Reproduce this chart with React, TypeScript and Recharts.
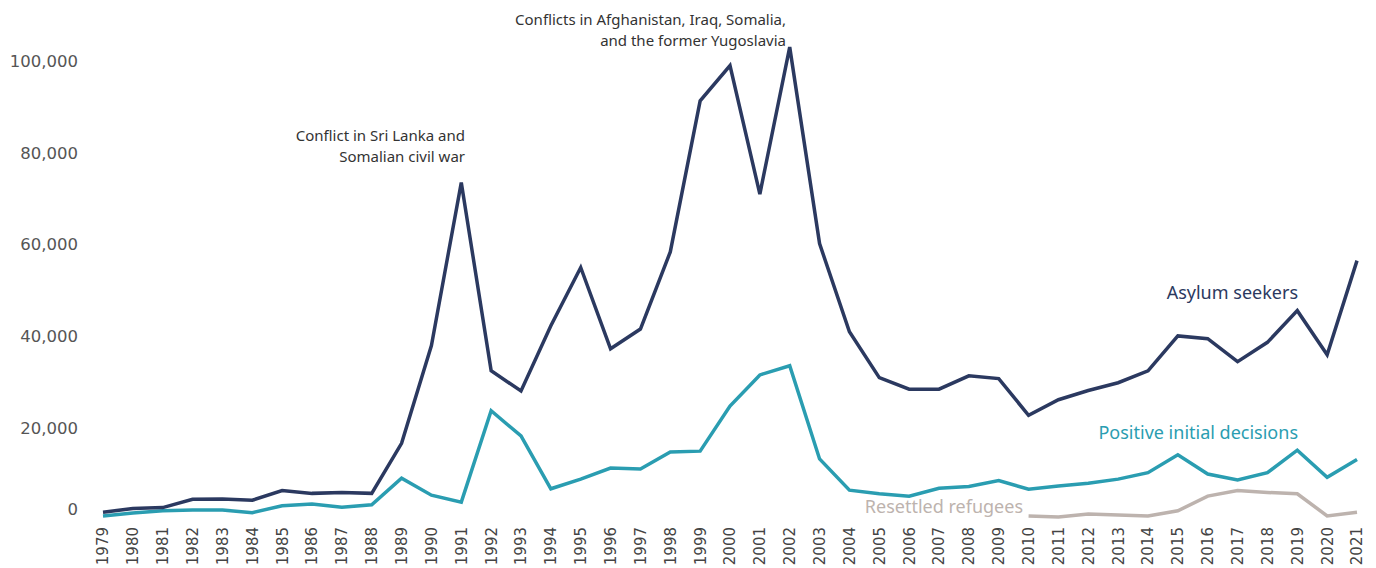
import React from 'react';
import { LineChart, Line, XAxis, YAxis } from 'recharts';

const years = [
  '1979', '1980', '1981', '1982', '1983', '1984', '1985', '1986', '1987', '1988',
  '1989', '1990', '1991', '1992', '1993', '1994', '1995', '1996', '1997', '1998',
  '1999', '2000', '2001', '2002', '2003', '2004', '2005', '2006', '2007', '2008',
  '2009', '2010', '2011', '2012', '2013', '2014', '2015', '2016', '2017', '2018',
  '2019', '2020', '2021',
];

const asylumSeekers = [
  1700, 2500, 2700, 4500, 4600, 4300, 6400, 5800, 6000, 5800,
  16700, 38000, 73500, 32500, 28100, 42300, 55000, 37300, 41600, 58400,
  91300, 99000, 71000, 103000, 60200, 41000, 31000, 28500, 28500, 31400,
  30800, 22800, 26200, 28200, 29900, 32500, 40100, 39500, 34500, 38700,
  45600, 36000, 56500,
];

const positiveDecisions = [
  870, 1500, 2000, 2200, 2200, 1600, 3100, 3500, 2800, 3300,
  9100, 5400, 3900, 23800, 18300, 6800, 8900, 11300, 11100, 14800,
  15000, 24800, 31600, 33600, 13300, 6500, 5700, 5200, 6900, 7300,
  8600, 6700, 7400, 8000, 8900, 10300, 14200, 10000, 8700, 10300,
  15200, 9300, 13200,
];

// no resettlement figures before 2010
const resettledRefugees = [
  null, null, null, null, null, null, null, null, null, null,
  null, null, null, null, null, null, null, null, null, null,
  null, null, null, null, null, null, null, null, null, null,
  null, 870, 650, 1300, 1100, 870, 2000, 5200, 6400, 6000,
  5700, 900, 1700,
];

const yTicks = [0, 20000, 40000, 60000, 80000, 100000];

const NAVY = '#2b3960';
const TEAL = '#2a9db1';
const TAUPE = '#bdb3ae';

const data = years.map((year, i) => ({
  year,
  asylum: asylumSeekers[i],
  positive: positiveDecisions[i],
  resettled: resettledRefugees[i],
}));

const YTick = (props: any) => {
  const { x, y, payload } = props;
  // the zero label sits a little above the baseline
  const dy = payload.value === 0 ? -11 : 0;
  return (
    <text x={x} y={y + dy} dy="0.35em" textAnchor="end" fill="#555" fontSize={16.5} fontFamily="DejaVu Sans, Verdana, sans-serif">
      {payload.value.toLocaleString('en-US')}
    </text>
  );
};

const XTick = (props: any) => {
  const { x, y, payload } = props;
  return (
    <text
      x={x}
      y={y}
      transform={`rotate(-90, ${x}, ${y})`}
      dy="0.36em"
      textAnchor="end"
      fill="#444"
      fontSize={15}
      fontFamily="DejaVu Sans, Verdana, sans-serif"
    >
      {payload.value}
    </text>
  );
};

const note: React.CSSProperties = {
  position: 'absolute',
  textAlign: 'right',
  fontFamily: '"Noto Sans", sans-serif',
  whiteSpace: 'nowrap',
};

export default function App() {
  return (
    <div style={{ position: 'absolute', left: 0, top: 0, width: 1376, height: 568, background: '#fff' }}>
      <LineChart width={1376} height={568} data={data} margin={{ top: 15, right: 19, bottom: 0, left: 0 }}>
        <XAxis
          dataKey="year"
          interval={0}
          axisLine={false}
          tickLine={false}
          height={48}
          tickSize={0}
          tickMargin={7}
          tick={<XTick />}
        />
        <YAxis
          domain={[0, 110000]}
          ticks={yTicks}
          width={103}
          axisLine={false}
          tickLine={false}
          tickSize={0}
          tickMargin={25}
          tick={<YTick />}
        />
        <Line dataKey="resettled" stroke={TAUPE} strokeWidth={3.5} dot={false} isAnimationActive={false} />
        <Line dataKey="positive" stroke={TEAL} strokeWidth={3.5} dot={false} isAnimationActive={false} />
        <Line dataKey="asylum" stroke={NAVY} strokeWidth={3.5} dot={false} isAnimationActive={false} />
      </LineChart>

      <div style={{ ...note, right: 1376 - 465, top: 125, fontSize: 15, lineHeight: '21px', color: '#333' }}>
        Conflict in Sri Lanka and
        <br />
        Somalian civil war
      </div>
      <div style={{ ...note, right: 1376 - 786, top: 9, fontSize: 15, lineHeight: '21px', color: '#333' }}>
        Conflicts in Afghanistan, Iraq, Somalia,
        <br />
        and the former Yugoslavia
      </div>
      <div style={{ ...note, right: 1376 - 1298, top: 280, fontSize: 18, color: NAVY }}>Asylum seekers</div>
      <div style={{ ...note, right: 1376 - 1298, top: 420, fontSize: 18, color: TEAL }}>Positive initial decisions</div>
      <div style={{ ...note, right: 1376 - 1023, top: 494, fontSize: 18, color: TAUPE }}>Resettled refugees</div>
    </div>
  );
}
